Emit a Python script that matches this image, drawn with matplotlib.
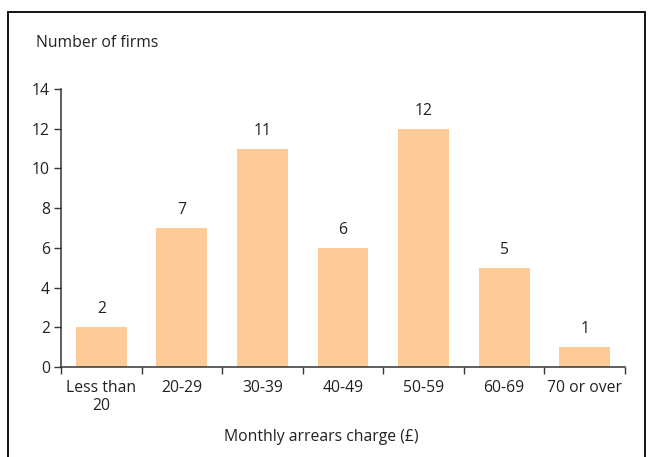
import matplotlib
matplotlib.use("Agg")
import matplotlib.pyplot as plt
from matplotlib.patches import Rectangle

categories = ["Less than\n20", "20-29", "30-39", "40-49", "50-59", "60-69", "70 or over"]
values = [2, 7, 11, 6, 12, 5, 1]
yticks = [0, 2, 4, 6, 8, 10, 12, 14]

plt.rcParams['font.family'] = ['Open Sans', 'DejaVu Sans']
FS = 11.3

fig = plt.figure(figsize=(6.48, 4.57), dpi=100)
ax = fig.add_axes([61/648, 1-367/457, (625-61)/648, (367-89)/457])

x = list(range(len(categories)))
bars = ax.bar(x, values, width=0.63, color="#FDCB97", zorder=2)
for xi, v in zip(x, values):
    ax.text(xi, v + 0.5, str(v), ha="center", va="bottom", fontsize=FS, color="#222222")

ax.set_xlim(-0.5, len(categories) - 0.5)
ax.set_ylim(0, 14)
ax.set_yticks(yticks)
ax.set_yticklabels([str(t) for t in yticks], fontsize=FS, color="#222222")

ax.set_xticks([i - 0.5 for i in range(len(categories) + 1)])
ax.set_xticklabels([])
ax.set_xticks(x, minor=True)
ax.set_xticklabels(categories, minor=True, fontsize=FS, color="#222222", linespacing=1.2)
ax.tick_params(axis="x", which="minor", length=0, pad=9)
ax.tick_params(axis="x", which="major", length=5, width=1, color="#333333", direction="out")
ax.tick_params(axis="y", length=5, width=1, color="#333333", direction="out", pad=3)

for s in ["top", "right"]:
    ax.spines[s].set_visible(False)
for s in ["left", "bottom"]:
    ax.spines[s].set_color("#333333")
    ax.spines[s].set_linewidth(1.1)

fig.text(36/648, 1-43/457, "Number of firms", ha="left", va="center", fontsize=FS, color="#222222")
fig.text(321/648, 1-437/457, "Monthly arrears charge (£)", ha="center", va="center", fontsize=FS, color="#222222")

fig.patches.append(Rectangle((8/648, -0.1), (645-8)/648, 1.1 - 12/457 + 0.0, transform=fig.transFigure,
                             fill=False, edgecolor="black", linewidth=1.3))

fig.savefig("out.png", dpi=100)
